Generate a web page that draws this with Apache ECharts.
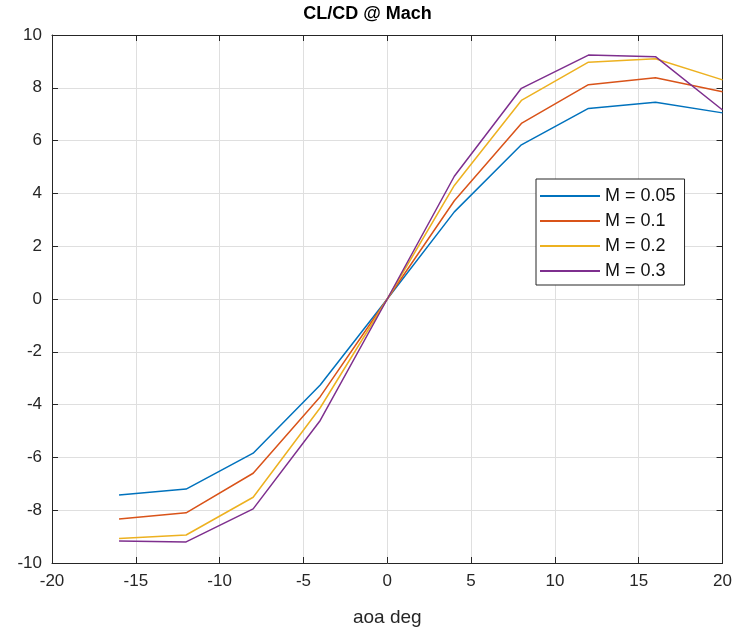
<!DOCTYPE html>
<html>
<head>
<meta charset="utf-8">
<script src="https://cdn.jsdelivr.net/npm/echarts@6/dist/echarts.min.js"></script>
<style>
  html, body { margin: 0; padding: 0; background: #fff; }
  #chart { width: 735px; height: 632px; }
</style>
</head>
<body>
<div id="chart"></div>
<script>
const aoa = [-16, -12, -8, -4, 0, 4, 8, 12, 16, 20]
const m005 = [-7.42, -7.2, -5.84, -3.26, 0, 3.3, 5.84, 7.22, 7.45, 7.05]
const m01 = [-8.33, -8.1, -6.6, -3.7, 0, 3.72, 6.65, 8.12, 8.38, 7.85]
const m02 = [-9.07, -8.94, -7.51, -4.12, 0, 4.3, 7.52, 8.97, 9.1, 8.3]
const m03 = [-9.17, -9.2, -7.95, -4.6, 0, 4.65, 7.98, 9.24, 9.18, 7.16]
const names = ['M = 0.05', 'M = 0.1', 'M = 0.2', 'M = 0.3']
const colors = ['#0072BD', '#D95319', '#EDB120', '#7E2F8E']

const pairs = arr => aoa.map((x, i) => [x, arr[i]])
const ink = '#262626'
const font = 'Liberation Sans, Arial, sans-serif'

const chart = echarts.init(document.getElementById('chart'))

const baseX = {
  type: 'value', min: -20, max: 20, interval: 5,
  axisLine: { onZero: false, lineStyle: { color: ink, width: 1 } },
  axisTick: { inside: true, length: 6, lineStyle: { color: ink } },
  splitLine: { show: false }
}
const baseY = {
  type: 'value', min: -10, max: 10, interval: 2,
  axisLine: { onZero: false, lineStyle: { color: ink, width: 1 } },
  axisTick: { inside: true, length: 6, lineStyle: { color: ink } },
  splitLine: { show: false }
}

chart.setOption({
  backgroundColor: '#fff',
  animation: false,
  title: {
    text: 'CL/CD @ Mach',
    left: 'center',
    top: 0,
    textStyle: { fontFamily: font, fontSize: 18, fontWeight: 'bold', color: '#000' }
  },
  grid: { left: 52, right: 12, top: 35, bottom: 69 },
  legend: {
    data: names.map((n, i) => ({ name: n, icon: 'rect', itemStyle: { color: colors[i] } })),
    orient: 'vertical',
    left: 536,
    top: 179,
    itemWidth: 60,
    itemHeight: 2,
    itemGap: 7,
    padding: [8, 9, 5, 4],
    backgroundColor: '#fff',
    borderColor: ink,
    borderWidth: 1,
    borderRadius: 0,
    textStyle: { fontFamily: font, fontSize: 18, color: '#111' }
  },
  xAxis: [
    Object.assign({}, baseX, {
      position: 'bottom',
      name: 'aoa deg',
      nameLocation: 'middle',
      nameGap: 45,
      nameTextStyle: { fontFamily: font, fontSize: 19, color: ink },
      axisLabel: { fontFamily: font, fontSize: 17, color: ink, margin: 10 },
      splitLine: { show: true, lineStyle: { color: '#dfdfdf', width: 1 } }
    }),
    Object.assign({}, baseX, { position: 'top', axisLabel: { show: false } })
  ],
  yAxis: [
    Object.assign({}, baseY, {
      position: 'left',
      axisLabel: { fontFamily: font, fontSize: 17, color: ink, margin: 10 },
      splitLine: { show: true, lineStyle: { color: '#dfdfdf', width: 1 } }
    }),
    Object.assign({}, baseY, { position: 'right', axisLabel: { show: false } })
  ],
  series: [m005, m01, m02, m03].map((arr, i) => ({
    name: names[i],
    type: 'line',
    data: pairs(arr),
    symbol: 'none',
    lineStyle: { color: colors[i], width: 1.5 },
    itemStyle: { color: colors[i] }
  }))
})
</script>
</body>
</html>
